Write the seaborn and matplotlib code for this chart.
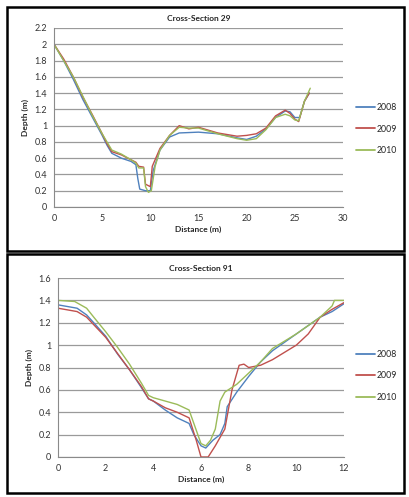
import numpy as np
import pandas as pd
import matplotlib
matplotlib.use("Agg")
import matplotlib.pyplot as plt
import seaborn as sns
from matplotlib.patches import Rectangle
from matplotlib.ticker import FuncFormatter

sns.set_style("white")
plt.rcParams['font.family'] = ['Lato', 'DejaVu Sans']

years = ["2008", "2009", "2010"]
colors = ["#4F81BD", "#C0504D", "#9BBB59"]

# Cross-Section 29
cs29_x_2008 = [0, 1, 2, 3, 4, 5, 5.5, 6, 7, 8, 8.5, 8.7, 8.9, 9.5, 10, 10.3, 11, 12, 13, 15, 17, 19, 20, 21, 22, 23, 24, 24.5, 25, 25.5, 26, 26.5]
cs29_y_2008 = [2.0, 1.8, 1.57, 1.32, 1.1, 0.88, 0.76, 0.66, 0.6, 0.56, 0.52, 0.35, 0.22, 0.2, 0.2, 0.45, 0.7, 0.86, 0.91, 0.92, 0.9, 0.85, 0.83, 0.87, 0.96, 1.1, 1.18, 1.17, 1.1, 1.1, 1.3, 1.4]
cs29_x_2009 = [0, 1, 2, 3, 4, 5, 5.5, 6, 6.5, 7, 8, 8.5, 8.8, 9.3, 9.5, 10, 10.2, 11, 12, 13, 14, 15, 17, 19, 20, 21, 22, 23, 24, 24.5, 25, 25.4, 26, 26.5]
cs29_y_2009 = [2.0, 1.82, 1.6, 1.35, 1.13, 0.9, 0.78, 0.68, 0.66, 0.64, 0.58, 0.55, 0.5, 0.49, 0.28, 0.25, 0.5, 0.72, 0.88, 1.0, 0.96, 0.98, 0.91, 0.87, 0.88, 0.9, 0.97, 1.12, 1.19, 1.15, 1.08, 1.05, 1.3, 1.4]
cs29_x_2010 = [0, 1, 2, 3, 4, 5, 6, 7, 8, 8.5, 8.8, 9.3, 9.5, 9.8, 10.1, 10.5, 11, 12, 13, 14, 15, 17, 19, 20, 21, 22, 23, 24, 24.5, 25, 25.4, 26, 26.6]
cs29_y_2010 = [2.0, 1.8, 1.6, 1.36, 1.12, 0.9, 0.7, 0.65, 0.58, 0.54, 0.48, 0.48, 0.25, 0.18, 0.2, 0.5, 0.7, 0.88, 0.98, 0.97, 0.97, 0.9, 0.84, 0.82, 0.84, 0.95, 1.1, 1.14, 1.12, 1.07, 1.06, 1.3, 1.46]

# Cross-Section 91
cs91_x_2008 = [0, 0.8, 1.2, 1.5, 2, 2.5, 3, 3.5, 3.8, 4, 4.5, 5, 5.5, 5.7, 6.0, 6.2, 6.5, 6.8, 7.0, 7.1, 7.5, 8, 8.5, 9, 10, 11, 11.5, 12]
cs91_y_2008 = [1.36, 1.33, 1.27, 1.2, 1.08, 0.92, 0.78, 0.62, 0.52, 0.5, 0.42, 0.35, 0.3, 0.2, 0.1, 0.08, 0.15, 0.2, 0.3, 0.45, 0.58, 0.72, 0.85, 0.95, 1.1, 1.25, 1.3, 1.37]
cs91_x_2009 = [0, 0.8, 1.2, 2, 3, 3.5, 3.8, 4, 4.5, 5, 5.5, 5.8, 6.0, 6.3, 6.6, 7.0, 7.3, 7.6, 7.8, 8.0, 8.5, 9, 10, 10.5, 11, 11.5, 12]
cs91_y_2009 = [1.33, 1.3, 1.25, 1.07, 0.78, 0.63, 0.52, 0.5, 0.44, 0.4, 0.35, 0.15, 0.0, 0.0, 0.1, 0.25, 0.6, 0.82, 0.83, 0.8, 0.82, 0.87, 1.0, 1.1, 1.25, 1.32, 1.38]
cs91_x_2010 = [0, 0.7, 1.2, 1.5, 2, 2.5, 3, 3.5, 3.8, 4, 4.5, 5, 5.5, 5.7, 6.0, 6.2, 6.4, 6.6, 6.8, 7.0, 7.5, 8, 8.5, 9, 10, 11, 11.5, 11.6, 12]
cs91_y_2010 = [1.4, 1.39, 1.33, 1.25, 1.12, 0.98, 0.83, 0.66, 0.55, 0.53, 0.5, 0.47, 0.42, 0.3, 0.12, 0.1, 0.15, 0.25, 0.5, 0.58, 0.65, 0.75, 0.85, 0.97, 1.1, 1.25, 1.35, 1.4, 1.4]


def make_df(xs, ys):
    frames = []
    for yr, x, y in zip(years, xs, ys):
        frames.append(pd.DataFrame({"Distance": x, "Depth": y, "Year": yr}))
    return pd.concat(frames, ignore_index=True)


df29 = make_df([cs29_x_2008, cs29_x_2009, cs29_x_2010], [cs29_y_2008, cs29_y_2009, cs29_y_2010])
df91 = make_df([cs91_x_2008, cs91_x_2009, cs91_x_2010], [cs91_y_2008, cs91_y_2009, cs91_y_2010])

W, H = 409, 497
fig = plt.figure(figsize=(W / 100, H / 100), dpi=100)

# panel frames
for (x0, y0, x1, y1) in [(7, 7, 404, 251), (7, 254, 404, 493)]:
    fig.patches.append(Rectangle((x0 / W, 1 - y1 / H), (x1 - x0) / W, (y1 - y0) / H,
                                 transform=fig.transFigure, fill=False,
                                 edgecolor="black", linewidth=1.8))


def fmt(v, pos):
    s = f"{v:.1f}"
    if s.endswith(".0"):
        s = s[:-2]
    return s


def setup(ax, df, xlim, xticks, ylim, yticks, title, leg_y):
    sns.lineplot(data=df, x="Distance", y="Depth", hue="Year", palette=colors,
                 estimator=None, sort=False, linewidth=1.0, ax=ax, legend=False)
    ax.set_xlim(*xlim)
    ax.set_ylim(*ylim)
    ax.set_xticks(xticks)
    ax.set_yticks(yticks)
    ax.yaxis.set_major_formatter(FuncFormatter(fmt))
    ax.grid(axis="y", color="#9a9a9a", linewidth=0.9)
    ax.grid(axis="x", visible=False)
    for s in ["top", "right"]:
        ax.spines[s].set_visible(False)
    for s in ["left", "bottom"]:
        ax.spines[s].set_color("#8a8a8a")
        ax.spines[s].set_linewidth(0.8)
    ax.tick_params(axis="both", direction="out", length=3, width=0.8, color="#8a8a8a",
                   labelsize=6.5, labelcolor="#333333", pad=2)
    ax.set_xlabel("Distance (m)", fontsize=6, fontweight="bold", labelpad=2)
    ax.set_ylabel("Depth (m)", fontsize=6, fontweight="bold", labelpad=4)
    ax.set_title(title, fontsize=6, fontweight="bold", pad=5)
    handles = [plt.Line2D([], [], color=c, linewidth=1.3) for c in colors]
    ax.legend(handles, years, loc="center left", bbox_to_anchor=(356 / W, 1 - leg_y / H),
              bbox_transform=fig.transFigure, frameon=False, fontsize=6.3,
              handlelength=2.2, handletextpad=0.15, labelspacing=1.45,
              borderpad=0, borderaxespad=0)


ax1 = fig.add_axes([54 / W, 1 - 207 / H, (343 - 54) / W, (207 - 28) / H])
setup(ax1, df29, (0, 30), [0, 5, 10, 15, 20, 25, 30], (0, 2.2),
      np.round(np.arange(0, 2.21, 0.2), 1), "Cross-Section 29", 129)

ax2 = fig.add_axes([58 / W, 1 - 457 / H, (344 - 58) / W, (457 - 278) / H])
setup(ax2, df91, (0, 12), [0, 2, 4, 6, 8, 10, 12], (0, 1.6),
      np.round(np.arange(0, 1.61, 0.2), 1), "Cross-Section 91", 376)

fig.savefig("out.png", dpi=100)
